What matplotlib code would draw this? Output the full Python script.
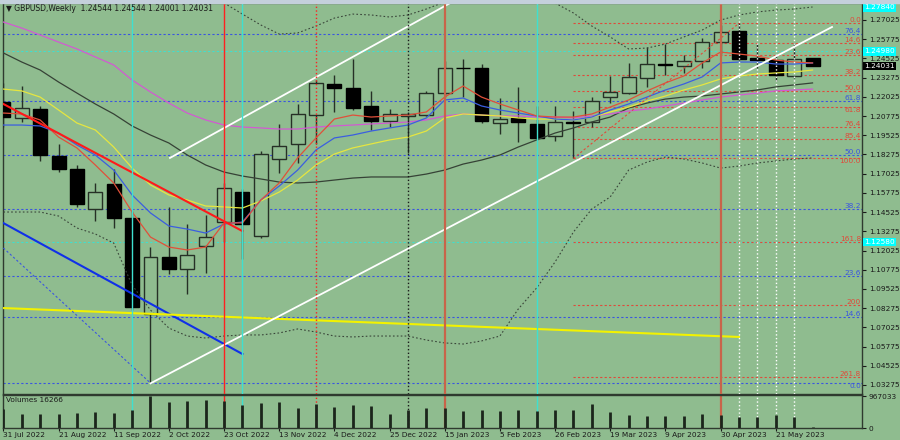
import matplotlib
matplotlib.use("Agg")
import matplotlib.pyplot as plt
import matplotlib.transforms as mtransforms
from matplotlib.patches import Rectangle

BG = "#8fbc8f"
DARK = "#263026"
CYAN = "#3fe0d0"

# weekly bars 31 Jul 2022 .. 4 Jun 2023 (45 bars)
opens = [1.2167, 1.2063, 1.2123, 1.1818, 1.1731, 1.1471, 1.1633, 1.1412, 1.0789, 1.1162,
         1.1080, 1.1232, 1.1390, 1.1585, 1.1299, 1.1798, 1.1894, 1.2084, 1.2288, 1.2258,
         1.2145, 1.2045, 1.2080, 1.2084, 1.2226, 1.2392, 1.2392, 1.2030, 1.2063, 1.2024,
         1.1948, 1.2038, 1.2037, 1.2199, 1.2226, 1.2323, 1.2416, 1.2405, 1.2436, 1.2557,
         1.2633, 1.2457, 1.2442, 1.2340, 1.24544]
highs = [1.2291, 1.2273, 1.2143, 1.1896, 1.1759, 1.1640, 1.1731, 1.1460, 1.1227, 1.1488,
         1.1373, 1.1434, 1.1640, 1.1600, 1.1850, 1.2026, 1.2154, 1.2312, 1.2345, 1.2447,
         1.2243, 1.2123, 1.2105, 1.2243, 1.2436, 1.2449, 1.2416, 1.2193, 1.2268, 1.2143,
         1.2143, 1.2112, 1.2199, 1.2338, 1.2425, 1.2529, 1.2546, 1.2475, 1.2587, 1.2668,
         1.2681, 1.2546, 1.2475, 1.2551, 1.24544]
lows = [1.2008, 1.2041, 1.1787, 1.1711, 1.1488, 1.1397, 1.1347, 1.0815, 1.0338, 1.1048,
        1.0918, 1.1054, 1.1260, 1.1145, 1.1282, 1.1705, 1.1774, 1.1896, 1.2106, 1.2117,
        1.1987, 1.2004, 1.1838, 1.2080, 1.2200, 1.2203, 1.2035, 1.1959, 1.1911, 1.1920,
        1.1917, 1.1802, 1.2004, 1.2164, 1.2220, 1.2268, 1.2345, 1.2356, 1.2388, 1.2480,
        1.2440, 1.2388, 1.2306, 1.2323, 1.24001]
closes = [1.2069, 1.2132, 1.1824, 1.1733, 1.1503, 1.1581, 1.1412, 1.0837, 1.1158, 1.1082,
          1.1171, 1.1289, 1.1607, 1.1373, 1.1829, 1.1885, 1.2089, 1.2291, 1.2262, 1.2132,
          1.2045, 1.2091, 1.2092, 1.2226, 1.2392, 1.2390, 1.2047, 1.2056, 1.2037, 1.1937,
          1.2037, 1.2032, 1.2175, 1.2232, 1.2330, 1.2416, 1.2412, 1.2438, 1.2561, 1.2626,
          1.2447, 1.2442, 1.2345, 1.2447, 1.24031]
volumes = [578214, 438655, 437902, 428771, 468530, 498412, 469087, 548366, 967033, 777410,
           807652, 837281, 817544, 697830, 757691, 777205, 598324, 727915, 628047, 707806,
           668120, 418733, 558290, 608175, 598301, 508466, 548390, 518402, 558317, 518376,
           538421, 538299, 717860, 488510, 378902, 349011, 358877, 358940, 418694, 398812,
           338960, 339041, 408833, 338987, 16266]

# indicator lines, one value per bar
ma_red = [1.2097, 1.2091, 1.2052, 1.1941, 1.1870, 1.1759, 1.1642, 1.1453, 1.1290, 1.1225,
          1.1206, 1.1225, 1.1382, 1.1382, 1.1531, 1.1642, 1.1805, 1.1935, 1.2058, 1.2084,
          1.2071, 1.2078, 1.2084, 1.2104, 1.2201, 1.2273, 1.2201, 1.2156, 1.2117, 1.2078,
          1.2071, 1.2071, 1.2091, 1.2136, 1.2182, 1.2241, 1.2293, 1.2338, 1.2423, 1.2494,
          1.2481, 1.2468, 1.2442, 1.2429, 1.2423]
ma_blue = [1.2019, 1.2019, 1.2013, 1.1967, 1.1889, 1.1824, 1.1726, 1.1564, 1.1447, 1.1362,
           1.1342, 1.1316, 1.1375, 1.1388, 1.1531, 1.1622, 1.1726, 1.1857, 1.1935, 1.1954,
           1.1980, 1.2000, 1.2019, 1.2065, 1.2182, 1.2195, 1.2143, 1.2117, 1.2097, 1.2078,
           1.2058, 1.2052, 1.2071, 1.2117, 1.2156, 1.2201, 1.2247, 1.2286, 1.2332, 1.2423,
           1.2429, 1.2429, 1.2416, 1.2416, 1.2423]
ma_yellow = [1.2253, 1.2241, 1.2201, 1.2117, 1.2032, 1.1987, 1.1876, 1.1739, 1.1629, 1.1564,
             1.1531, 1.1492, 1.1486, 1.1479, 1.1525, 1.1583, 1.1661, 1.1759, 1.1830, 1.1870,
             1.1896, 1.1922, 1.1941, 1.1980, 1.2065, 1.2091, 1.2084, 1.2078, 1.2065, 1.2058,
             1.2058, 1.2052, 1.2071, 1.2104, 1.2136, 1.2175, 1.2208, 1.2247, 1.2280, 1.2319,
             1.2338, 1.2351, 1.2358, 1.2364, 1.2377]
ma_magenta = [1.2689, 1.2650, 1.2605, 1.2559, 1.2514, 1.2462, 1.2410, 1.2312, 1.2234, 1.2162,
              1.2097, 1.2052, 1.2019, 1.2006, 1.2000, 1.1993, 1.1993, 1.2006, 1.2013, 1.2019,
              1.2026, 1.2032, 1.2039, 1.2052, 1.2078, 1.2091, 1.2084, 1.2078, 1.2078, 1.2071,
              1.2071, 1.2065, 1.2078, 1.2091, 1.2110, 1.2123, 1.2143, 1.2162, 1.2182, 1.2201,
              1.2214, 1.2227, 1.2241, 1.2247, 1.2253]
bb_mid = [1.2488, 1.2429, 1.2377, 1.2299, 1.2227, 1.2156, 1.2091, 1.2013, 1.1954, 1.1902,
          1.1824, 1.1759, 1.1713, 1.1687, 1.1668, 1.1648, 1.1642, 1.1648, 1.1661, 1.1674,
          1.1681, 1.1681, 1.1681, 1.1700, 1.1726, 1.1765, 1.1791, 1.1824, 1.1876, 1.1922,
          1.1967, 1.2000, 1.2039, 1.2071, 1.2130, 1.2162, 1.2188, 1.2201, 1.2208, 1.2221,
          1.2234, 1.2247, 1.2267, 1.2280, 1.2293]
bb_up = [1.3522, 1.3405, 1.3301, 1.3171, 1.3106, 1.3002, 1.2930, 1.3015, 1.3093, 1.3106,
         1.3002, 1.2885, 1.2813, 1.2741, 1.2670, 1.2611, 1.2618, 1.2663, 1.2715, 1.2741,
         1.2735, 1.2722, 1.2735, 1.2774, 1.2820, 1.2885, 1.2937, 1.2963, 1.2950, 1.2885,
         1.2813, 1.2748, 1.2663, 1.2592, 1.2514, 1.2520, 1.2546, 1.2592, 1.2637, 1.2702,
         1.2735, 1.2755, 1.2767, 1.2774, 1.2787]
bb_lo = [1.1453, 1.1453, 1.1453, 1.1427, 1.1349, 1.1310, 1.1251, 1.0978, 1.0815, 1.0698,
         1.0646, 1.0633, 1.0646, 1.0653, 1.0653, 1.0666, 1.0692, 1.0672, 1.0646, 1.0640,
         1.0646, 1.0646, 1.0646, 1.0620, 1.0601, 1.0594, 1.0614, 1.0646, 1.0822, 1.0959,
         1.1128, 1.1323, 1.1473, 1.1551, 1.1726, 1.1778, 1.1811, 1.1798, 1.1772, 1.1739,
         1.1752, 1.1772, 1.1785, 1.1798, 1.1805]

# trend lines (bar index, price)
red_tl = ([0, 13], [1.2156, 1.1329])
blue_tl = ([0, 13], [1.1381, 1.0529])
yellow_tl = ([0, 40], [1.0828, 1.0640])
white_lo = ([8, 45.06], [1.0338, 1.2657])
white_hi = ([9.06, 24.3], [1.1805, 1.2813])
blue_fib_diag = ([0, 8], [1.1219, 1.0340])
red_fib_diag = ([31, 40], [1.1802, 1.2681])

red_fib_labels = ["0.0", "14.6", "23.6", "38.2", "50.0", "61.8", "76.4", "85.4",
                  "100.0", "161.8", "200", "261.8"]
red_fib_prices = [1.2680, 1.2552, 1.2473, 1.2345, 1.2241, 1.2137, 1.2009, 1.1930,
                  1.1802, 1.1259, 1.0848, 1.0381]
red_fib_start = 31
blue_fib_labels = ["76.4", "61.8", "50.0", "38.2", "23.6", "14.6", "0.0"]
blue_fib_prices = [1.2609, 1.2175, 1.1824, 1.1473, 1.1039, 1.0772, 1.0338]
cyan_levels = [1.2498, 1.1258]
cyan_tags = [1.2784, 1.2498, 1.1258]

# vertical markers: bar index, color, style, width
vmarks = [(7, CYAN, "-", 1.0), (12, "#ff2020", "-", 1.0), (13, CYAN, "-", 1.0),
          (17, "#ff2020", ":", 1.0), (22, "#1a1a1a", ":", 1.0), (24, "#c8644a", "-", 1.6),
          (29, CYAN, "-", 1.0), (39, "#c8644a", "-", 1.6), (40, "white", ":", 1.0),
          (41, "white", ":", 1.0), (42, "white", ":", 1.0), (43, "white", ":", 1.0)]

price_ticks = [1.27025, 1.25775, 1.24525, 1.23275, 1.22025, 1.20775, 1.19525, 1.18275,
               1.17025, 1.15775, 1.14525, 1.13275, 1.12025, 1.10775, 1.09525, 1.08275,
               1.07025, 1.05775, 1.04525, 1.03275]
date_ticks = [0, 3, 6, 9, 12, 15, 18, 21, 24, 27, 30, 33, 36, 39, 42]
date_labels = ["31 Jul 2022", "21 Aug 2022", "11 Sep 2022", "2 Oct 2022", "23 Oct 2022",
               "13 Nov 2022", "4 Dec 2022", "25 Dec 2022", "15 Jan 2023", "5 Feb 2023",
               "26 Feb 2023", "19 Mar 2023", "9 Apr 2023", "30 Apr 2023", "21 May 2023"]

fig = plt.figure(figsize=(9, 4.4), dpi=100)
fig.patch.set_facecolor(BG)
fig.patches.append(Rectangle((0, 1 - 3 / 440), 1, 3 / 440, transform=fig.transFigure,
                             color="#c4d0dc", zorder=0))
ax = fig.add_axes([3 / 900, 46 / 440, 859 / 900, 391 / 440])
axv = fig.add_axes([3 / 900, 12 / 440, 859 / 900, 33 / 440])
for a in (ax, axv):
    a.set_facecolor(BG)
    for s in a.spines.values():
        s.set_color("#2f3a2f")
        s.set_linewidth(1.0)
    a.set_xlim(-0.02, 46.69)

idx = list(range(len(opens)))

# horizontal levels
for p in blue_fib_prices:
    ax.axhline(p, color="#3a55e0", lw=0.8, ls=(0, (2, 2)), zorder=1)
for p in cyan_levels:
    ax.axhline(p, color=CYAN, lw=0.8, ls=(0, (2, 2)), zorder=1)
for p in red_fib_prices:
    ax.plot([red_fib_start, 46.69], [p, p], color="#e04a3a", lw=0.8, ls=(0, (2, 2)), zorder=1)

# candles
for i in idx:
    o, h, l, c = opens[i], highs[i], lows[i], closes[i]
    ax.vlines(i, l, h, color=DARK, lw=1.0, zorder=3)
    bottom = min(o, c)
    height = max(abs(c - o), 0.0003)
    fill = "black" if c < o else BG
    ax.bar(i, height, bottom=bottom, width=0.76, color=fill, edgecolor=DARK if c >= o else "black",
           linewidth=1.0, zorder=4)

# indicators
ax.plot(idx, bb_up, color="#3a463a", lw=0.8, ls=(0, (1.5, 2)), zorder=5)
ax.plot(idx, bb_lo, color="#3a463a", lw=0.8, ls=(0, (1.5, 2)), zorder=5)
ax.plot(idx, bb_mid, color="#364236", lw=0.9, zorder=5)
ax.plot(idx, ma_magenta, color="#d25ad2", lw=0.9, zorder=5)
ax.plot(idx, ma_yellow, color="#e6e640", lw=0.9, zorder=5)
ax.plot(idx, ma_blue, color="#3b5ee0", lw=0.9, zorder=5)
ax.plot(idx, ma_red, color="#e0503a", lw=0.9, zorder=5)

# trend lines
ax.plot(*red_tl, color="#ff1a1a", lw=1.5, zorder=6)
ax.plot(*blue_tl, color="#1030e8", lw=1.5, zorder=6)
ax.plot(*yellow_tl, color="#f2f200", lw=1.5, zorder=6)
ax.plot(*white_lo, color="white", lw=1.3, zorder=6)
ax.plot(*white_hi, color="white", lw=1.3, zorder=6)
ax.plot(*blue_fib_diag, color="#3a55e0", lw=0.8, ls=(0, (2, 2)), zorder=6)
ax.plot(*red_fib_diag, color="#e04a3a", lw=0.8, ls=(0, (2, 2)), zorder=6)

# vertical markers through both panes
for i, col, ls, lw in vmarks:
    ax.axvline(i, color=col, ls=ls, lw=lw, zorder=7)
    axv.axvline(i, color=col, ls=ls, lw=lw, zorder=1)

# fib labels; where a red and a blue level sit close, one label goes under its line
trans = mtransforms.blended_transform_factory(ax.transAxes, ax.transData)
below_red = {"61.8", "100.0"}
below_blue = {"0.0"}
for lab, p in zip(red_fib_labels, red_fib_prices):
    ax.text(0.9988, p, lab, transform=trans, ha="right",
            va="top" if lab in below_red else "bottom",
            fontsize=5.3, color="#e04a3a", zorder=8)
for lab, p in zip(blue_fib_labels, blue_fib_prices):
    ax.text(0.9988, p, lab, transform=trans, ha="right",
            va="top" if lab in below_blue else "bottom",
            fontsize=5.3, color="#3a55e0", zorder=8)

ax.set_ylim(1.02688, 1.28131)
ax.yaxis.tick_right()
ax.set_yticks(price_ticks)
ax.set_yticklabels([f"{p:.5f}" for p in price_ticks])
ax.tick_params(axis="y", length=3, width=0.8, pad=2, labelsize=5.3, colors="#1a1a1a")
ax.set_xticks([])

for p in cyan_tags:
    ax.text(1.003, p, f"{p:.5f}", transform=trans, ha="left", va="center", fontsize=5.3,
            color="white", clip_on=False,
            bbox=dict(boxstyle="square,pad=0.15", fc="#00ffff", ec="none"))
ax.text(1.003, closes[-1], f"{closes[-1]:.5f}", transform=trans, ha="left", va="center",
        fontsize=5.3, color="white", clip_on=False,
        bbox=dict(boxstyle="square,pad=0.15", fc="black", ec="none"))

ax.text(0.0035, 0.997, "\u25bc GBPUSD,Weekly  1.24544 1.24544 1.24001 1.24031",
        transform=ax.transAxes, ha="left", va="top", fontsize=5.5, color="#1a1a1a", zorder=9)

# volume pane
axv.vlines(idx, 0, volumes, color="#1c251c", lw=2.0, zorder=3)
axv.set_ylim(0, 1000000)
axv.yaxis.tick_right()
axv.set_yticks([0, 967033])
axv.set_yticklabels(["0", "967033"])
axv.tick_params(axis="y", length=3, width=0.8, pad=2, labelsize=5.3, colors="#1a1a1a")
axv.set_xticks(date_ticks)
axv.set_xticklabels(date_labels, ha="left")
axv.tick_params(axis="x", length=2, width=0.8, pad=1, labelsize=5.3, colors="#1a1a1a")
axv.text(0.004, 0.93, "Volumes 16266", transform=axv.transAxes, ha="left", va="top",
         fontsize=5.3, color="#1a1a1a")

fig.savefig("out.png", dpi=100, facecolor=BG)
